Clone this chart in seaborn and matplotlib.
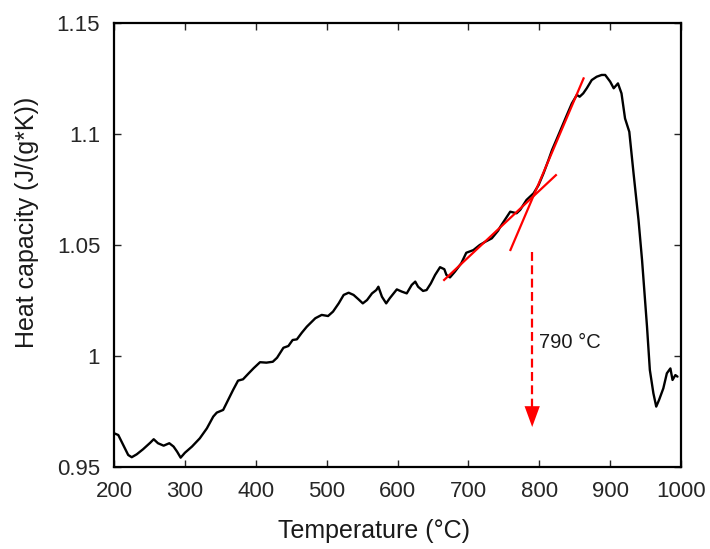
import numpy as np
import pandas as pd
import matplotlib
matplotlib.use("Agg")
import matplotlib.pyplot as plt
from matplotlib.patches import FancyArrowPatch
import seaborn as sns

# Measured DSC trace: temperature (°C) and specific heat capacity (J/(g*K))
temperature = [
    200, 206, 213, 220, 225, 232, 241, 251, 256, 262, 270, 278, 284, 289, 294,
    300, 310, 321, 331, 340, 345, 354, 361, 368, 375, 382, 390, 397, 406, 415,
    424, 430, 439, 446, 452, 458, 465, 472, 484, 493, 502, 509, 517, 524, 531,
    538, 545, 551, 557, 564, 570, 573, 578, 584, 589, 599, 606, 613, 620, 625,
    629, 636, 641, 647, 653, 660, 666, 669, 674, 681, 690, 697, 707, 716, 724,
    733, 742, 745, 759, 768, 773, 782, 792, 799, 806, 813, 818, 825, 832, 839,
    846, 853, 857, 862, 867, 874, 881, 888, 893, 900, 905, 911, 916, 921, 927,
    933, 940, 945, 952, 956, 961, 965, 969, 975, 980, 985, 988, 992, 995,
]
heat_capacity = [
    0.9652, 0.9644, 0.9599, 0.9554, 0.9544, 0.9557, 0.9580, 0.9609, 0.9625, 0.9607,
    0.9596, 0.9607, 0.9592, 0.9569, 0.9542, 0.9564, 0.9592, 0.9629, 0.9674, 0.9727,
    0.9745, 0.9757, 0.9802, 0.9847, 0.9889, 0.9895, 0.9922, 0.9945, 0.9972, 0.9970,
    0.9974, 0.9992, 1.0037, 1.0045, 1.0072, 1.0075, 1.0105, 1.0132, 1.0170, 1.0185,
    1.0180, 1.0200, 1.0237, 1.0275, 1.0285, 1.0275, 1.0255, 1.0237, 1.0252, 1.0282,
    1.0297, 1.0312, 1.0267, 1.0237, 1.0260, 1.0300, 1.0290, 1.0282, 1.0320, 1.0335,
    1.0312, 1.0293, 1.0297, 1.0327, 1.0365, 1.0400, 1.0391, 1.0365, 1.0354, 1.0380,
    1.0418, 1.0465, 1.0477, 1.0500, 1.0515, 1.0530, 1.0565, 1.0582, 1.0650, 1.0643,
    1.0658, 1.0703, 1.0733, 1.0770, 1.0823, 1.0883, 1.0928, 1.0980, 1.1033, 1.1086,
    1.1138, 1.1176, 1.1168, 1.1183, 1.1206, 1.1243, 1.1258, 1.1266, 1.1266, 1.1236,
    1.1206, 1.1228, 1.1183, 1.1070, 1.1010, 1.0823, 1.0613, 1.0432, 1.0132, 0.9937,
    0.9832, 0.9772, 0.9802, 0.9854, 0.9922, 0.9944, 0.9892, 0.9914, 0.9907,
]

# Tangent construction used to locate the onset
tangent_low_T = [664.6, 824.6]
tangent_low_cp = [1.0339, 1.0818]
tangent_high_T = [758.7, 863.1]
tangent_high_cp = [1.0473, 1.1255]

onset_T = 790
onset_arrow_cp = [1.047, 0.968]
onset_label = "790 °C"

x_ticks = [200, 300, 400, 500, 600, 700, 800, 900, 1000]
y_ticks = [0.95, 1.0, 1.05, 1.1, 1.15]
y_tick_labels = ["0.95", "1", "1.05", "1.1", "1.15"]

sns.set_style("ticks")
plt.rcParams["font.family"] = ["Liberation Sans", "DejaVu Sans"]

fig = plt.figure(figsize=(7.10, 5.49), dpi=100)
ax = fig.add_axes([0.1606, 0.1494, 0.7986, 0.8087])

df = pd.DataFrame({"T": temperature, "cp": heat_capacity})
sns.lineplot(data=df, x="T", y="cp", ax=ax, color="black", lw=1.7,
             sort=False, legend=False)

ax.plot(tangent_low_T, tangent_low_cp, color="#ff0000", lw=1.6,
        solid_capstyle="butt")
ax.plot(tangent_high_T, tangent_high_cp, color="#ff0000", lw=1.6,
        solid_capstyle="butt")

# dashed shaft and solid head of the onset arrow
ax.plot([onset_T, onset_T], [onset_arrow_cp[0], onset_arrow_cp[1] + 0.006],
        color="#ff0000", lw=1.6, ls=(0, (4, 2)))
head = FancyArrowPatch((onset_T, onset_arrow_cp[1] + 0.008),
                       (onset_T, onset_arrow_cp[1]),
                       arrowstyle="-|>,head_length=15,head_width=5.5",
                       mutation_scale=1, color="#ff0000", lw=0,
                       shrinkA=0, shrinkB=0)
ax.add_patch(head)
ax.text(onset_T + 9.5, 1.006, onset_label, fontsize=14.5, color="#1a1a1a",
        ha="left", va="center")

ax.set_xlim(200, 1000)
ax.set_ylim(0.95, 1.15)
ax.set_xticks(x_ticks)
ax.set_xticklabels([str(t) for t in x_ticks])
ax.set_yticks(y_ticks)
ax.set_yticklabels(y_tick_labels)

ax.tick_params(axis="both", which="major", direction="in", length=5,
               width=1, top=True, right=True, labelsize=16,
               labelcolor="#262626", pad=10)
for side in ["left", "right", "top", "bottom"]:
    ax.spines[side].set_visible(True)
    ax.spines[side].set_linewidth(1.6)
    ax.spines[side].set_color("black")

ax.set_xlabel("Temperature (°C)", fontsize=18, color="#1a1a1a")
ax.set_ylabel("Heat capacity (J/(g*K))", fontsize=18, color="#1a1a1a")
ax.xaxis.set_label_coords(0.458, -0.118)
ax.yaxis.set_label_coords(-0.132, 0.55)

fig.savefig("out.png", dpi=100)
